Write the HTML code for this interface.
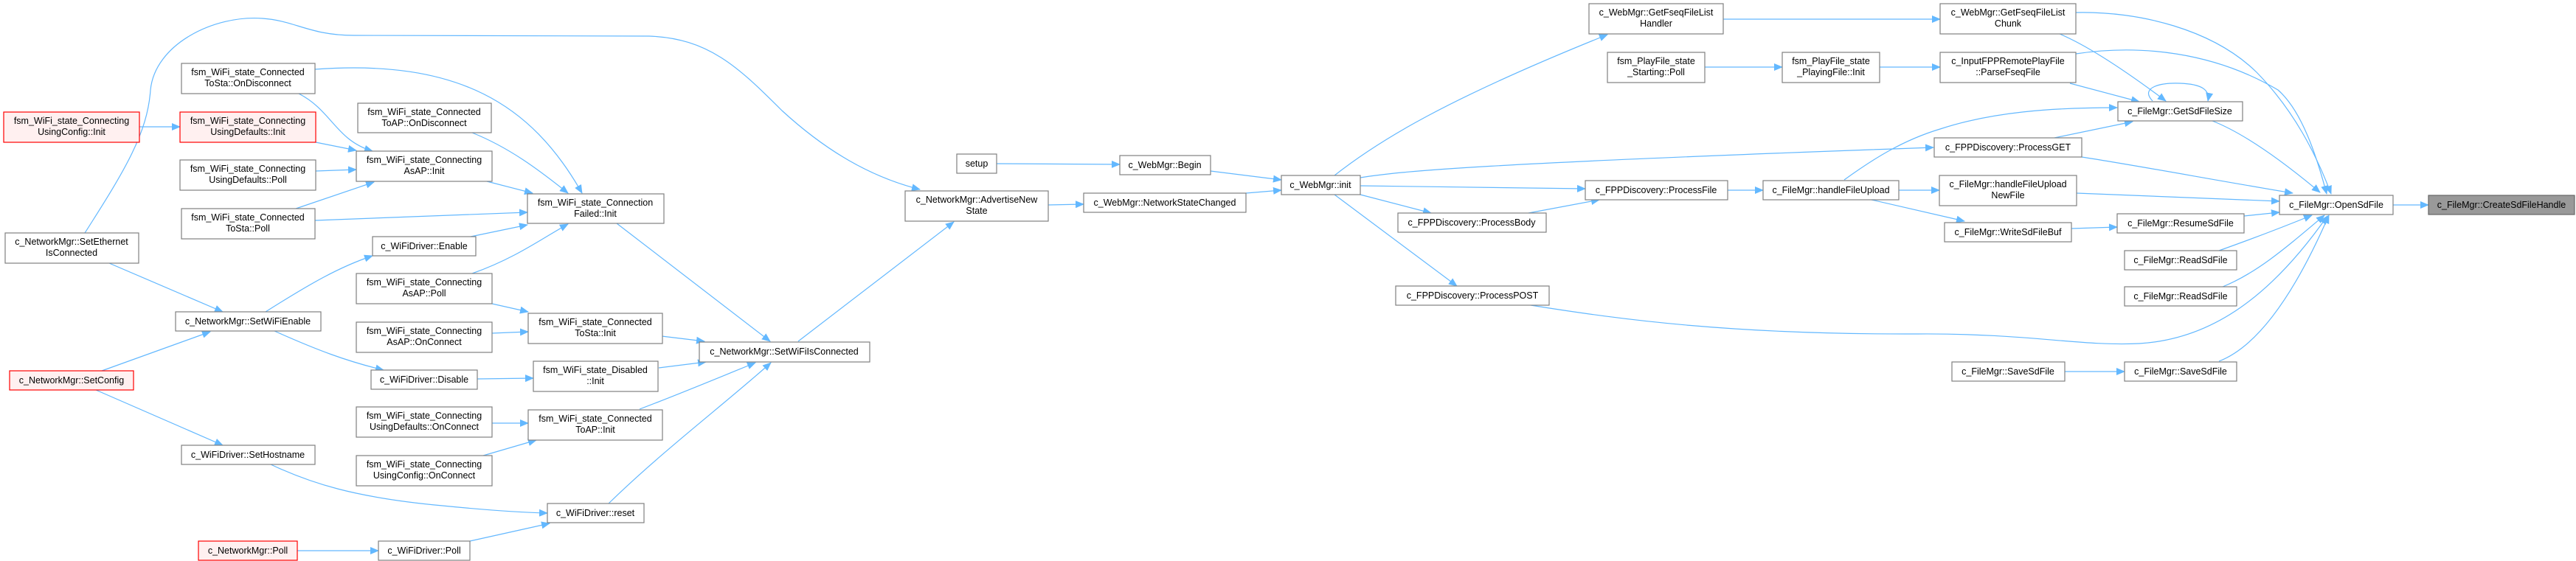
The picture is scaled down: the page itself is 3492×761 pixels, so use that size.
<!DOCTYPE html>
<html><head><meta charset="utf-8"><style>
html,body{margin:0;padding:0;background:#fff;}
svg{display:block;}
text{font-family:"Liberation Sans",Arial,sans-serif;font-size:12.5px;fill:#000;text-anchor:middle;}
rect{fill:#fff;stroke:#808080;stroke-width:1.2;}
rect.r{fill:#fff0f0;stroke:#ff0000;}
rect.g{fill:#999;stroke:#666;}
path{fill:none;stroke:#63b8ff;stroke-width:1.2;marker-end:url(#a);}
</style></head><body>
<svg width="3492" height="761" viewBox="0 0 3492 761" xmlns="http://www.w3.org/2000/svg">
<defs><marker id="a" markerUnits="userSpaceOnUse" markerWidth="12" markerHeight="10" refX="11" refY="5" orient="auto"><polygon points="0,0 12,5 0,10" fill="#63b8ff"/></marker></defs>

<!-- edges -->
<path d="M189,172 L244,172"/>
<path d="M405,127 C450,150 455,190 505,205"/>
<path d="M427,94 C620,80 720,140 789,262"/>
<path d="M428,193 L483,204"/>
<path d="M640,180 C690,200 730,230 770,262"/>
<path d="M428,232 L483,230"/>
<path d="M401,283 L507,247"/>
<path d="M427,299 L715,288"/>
<path d="M660,246 L722,262"/>
<path d="M638,321 L715,305"/>
<path d="M640,371 C700,350 740,320 770,304"/>
<path d="M836,303 L1044,463"/>
<path d="M148,357 L302,423"/>
<path d="M115,316 C170,230 200,180 204,122 C210,60 290,20 356,25 C400,28 420,48 480,48 L880,49 C960,52 1000,90 1060,150 C1120,205 1180,240 1247,257"/>
<path d="M360,423 C420,385 460,362 505,347"/>
<path d="M372,449 C430,475 470,490 520,502"/>
<path d="M138,503 L285,450"/>
<path d="M130,529 L302,604"/>
<path d="M647,514 L723,513"/>
<path d="M667,412 L716,423"/>
<path d="M667,452 L716,450"/>
<path d="M897,456 L955,463"/>
<path d="M893,499 L957,491"/>
<path d="M867,555 C920,535 980,510 1024,492"/>
<path d="M667,574 L716,574"/>
<path d="M655,618 L727,597"/>
<path d="M367,630 C420,655 480,675 600,686 C660,692 700,695 742,696"/>
<path d="M825,683 C900,610 980,550 1045,492"/>
<path d="M403,747 L513,747"/>
<path d="M637,734 L745,710"/>
<path d="M1082,463 L1293,301"/>
<path d="M1421,278 L1469,277"/>
<path d="M1351,222 L1518,223"/>
<path d="M1641,232 L1737,244"/>
<path d="M1689,262 L1737,258"/>
<path d="M1809,238 C1870,190 1960,135 2179,47"/>
<path d="M1844,241 C1900,232 2000,222 2621,200"/>
<path d="M1844,252 L2149,256"/>
<path d="M1844,264 L1940,289"/>
<path d="M1809,264 L1975,388"/>
<path d="M2072,289 L2168,271"/>
<path d="M2342,258 L2390,258"/>
<path d="M2500,244 C2540,215 2580,190 2630,175 C2700,152 2780,146 2870,146"/>
<path d="M2574,258 L2629,258"/>
<path d="M2537,271 L2663,300"/>
<path d="M2336,26 L2630,26"/>
<path d="M2311,91 L2416,91"/>
<path d="M2548,91 L2630,91"/>
<path d="M2792,46 C2830,62 2880,95 2936,137"/>
<path d="M2814,17 C2900,15 3000,40 3059,98 C3110,150 3140,210 3160,263"/>
<path d="M2806,113 L2900,138"/>
<path d="M2814,73 C2900,60 3000,70 3088,122 C3120,150 3140,210 3154,263"/>
<path d="M2918,137 C2900,118 2930,112 2955,113 C2985,114 2996,122 2993,137"/>
<path d="M2999,164 C3040,180 3090,215 3145,261"/>
<path d="M2785,187 L2891,165"/>
<path d="M2822,213 C2900,225 3000,244 3108,262"/>
<path d="M2815,262 L3090,273"/>
<path d="M2808,310 L2870,308"/>
<path d="M3042,293 L3090,288"/>
<path d="M3008,340 C3050,325 3090,310 3134,292"/>
<path d="M3013,389 C3060,370 3100,335 3151,292"/>
<path d="M2075,414 C2200,434 2350,454 2600,453 C2750,452 2820,470 2900,466 C3000,460 3080,400 3155,293"/>
<path d="M3008,490 C3060,470 3110,400 3157,292"/>
<path d="M2799,504 L2880,504"/>
<path d="M3244,278 L3292,278"/>

<!-- nodes -->
<rect x="246" y="86" width="181" height="41"/><text x="336" y="102">fsm_WiFi_state_Connected</text><text x="336" y="117">ToSta::OnDisconnect</text>
<rect class="r" x="5" y="152" width="184" height="41"/><text x="97" y="168">fsm_WiFi_state_Connecting</text><text x="97" y="183">UsingConfig::Init</text>
<rect class="r" x="244" y="152" width="184" height="41"/><text x="336" y="168">fsm_WiFi_state_Connecting</text><text x="336" y="183">UsingDefaults::Init</text>
<rect x="485" y="140" width="181" height="40"/><text x="575" y="156">fsm_WiFi_state_Connected</text><text x="575" y="171">ToAP::OnDisconnect</text>
<rect x="483" y="205" width="184" height="41"/><text x="575" y="221">fsm_WiFi_state_Connecting</text><text x="575" y="236">AsAP::Init</text>
<rect x="244" y="217" width="184" height="41"/><text x="336" y="233">fsm_WiFi_state_Connecting</text><text x="336" y="248">UsingDefaults::Poll</text>
<rect x="246" y="283" width="181" height="41"/><text x="336" y="299">fsm_WiFi_state_Connected</text><text x="336" y="314">ToSta::Poll</text>
<rect x="715" y="263" width="185" height="40"/><text x="807" y="279">fsm_WiFi_state_Connection</text><text x="807" y="294">Failed::Init</text>
<rect x="7" y="316" width="181" height="41"/><text x="97" y="332">c_NetworkMgr::SetEthernet</text><text x="97" y="347">IsConnected</text>
<rect x="505" y="321" width="140" height="26"/><text x="575" y="338">c_WiFiDriver::Enable</text>
<rect x="483" y="371" width="184" height="41"/><text x="575" y="387">fsm_WiFi_state_Connecting</text><text x="575" y="402">AsAP::Poll</text>
<rect x="238" y="423" width="197" height="26"/><text x="336" y="440">c_NetworkMgr::SetWiFiEnable</text>
<rect x="716" y="425" width="182" height="41"/><text x="807" y="441">fsm_WiFi_state_Connected</text><text x="807" y="456">ToSta::Init</text>
<rect x="483" y="437" width="184" height="41"/><text x="575" y="453">fsm_WiFi_state_Connecting</text><text x="575" y="468">AsAP::OnConnect</text>
<rect class="r" x="13" y="503" width="168" height="26"/><text x="97" y="520">c_NetworkMgr::SetConfig</text>
<rect x="503" y="502" width="144" height="26"/><text x="575" y="519">c_WiFiDriver::Disable</text>
<rect x="723" y="490" width="169" height="41"/><text x="807" y="506">fsm_WiFi_state_Disabled</text><text x="807" y="521">::Init</text>
<rect x="483" y="552" width="184" height="41"/><text x="575" y="568">fsm_WiFi_state_Connecting</text><text x="575" y="583">UsingDefaults::OnConnect</text>
<rect x="716" y="556" width="182" height="41"/><text x="807" y="572">fsm_WiFi_state_Connected</text><text x="807" y="587">ToAP::Init</text>
<rect x="246" y="604" width="181" height="26"/><text x="336" y="621">c_WiFiDriver::SetHostname</text>
<rect x="483" y="618" width="184" height="41"/><text x="575" y="634">fsm_WiFi_state_Connecting</text><text x="575" y="649">UsingConfig::OnConnect</text>
<rect x="742" y="683" width="131" height="26"/><text x="807" y="700">c_WiFiDriver::reset</text>
<rect class="r" x="269" y="734" width="134" height="26"/><text x="336" y="751">c_NetworkMgr::Poll</text>
<rect x="513" y="734" width="124" height="26"/><text x="575" y="751">c_WiFiDriver::Poll</text>
<rect x="948" y="464" width="231" height="27"/><text x="1063" y="481">c_NetworkMgr::SetWiFiIsConnected</text>
<rect x="1227" y="259" width="194" height="41"/><text x="1324" y="275">c_NetworkMgr::AdvertiseNew</text><text x="1324" y="290">State</text>
<rect x="1297" y="209" width="54" height="26"/><text x="1324" y="226">setup</text>
<rect x="1518" y="211" width="123" height="26"/><text x="1579" y="228">c_WebMgr::Begin</text>
<rect x="1469" y="262" width="220" height="26"/><text x="1579" y="279">c_WebMgr::NetworkStateChanged</text>
<rect x="1737" y="238" width="107" height="26"/><text x="1790" y="255">c_WebMgr::init</text>
<rect x="2154" y="5" width="182" height="41"/><text x="2245" y="21">c_WebMgr::GetFseqFileList</text><text x="2245" y="36">Handler</text>
<rect x="2179" y="71" width="132" height="41"/><text x="2245" y="87">fsm_PlayFile_state</text><text x="2245" y="102">_Starting::Poll</text>
<rect x="2416" y="71" width="132" height="41"/><text x="2482" y="87">fsm_PlayFile_state</text><text x="2482" y="102">_PlayingFile::Init</text>
<rect x="2149" y="245" width="193" height="26"/><text x="2245" y="262">c_FPPDiscovery::ProcessFile</text>
<rect x="2390" y="245" width="184" height="26"/><text x="2482" y="262">c_FileMgr::handleFileUpload</text>
<rect x="1895" y="289" width="201" height="26"/><text x="1995" y="306">c_FPPDiscovery::ProcessBody</text>
<rect x="1892" y="388" width="208" height="26"/><text x="1996" y="405">c_FPPDiscovery::ProcessPOST</text>
<rect x="2630" y="5" width="184" height="41"/><text x="2722" y="21">c_WebMgr::GetFseqFileList</text><text x="2722" y="36">Chunk</text>
<rect x="2630" y="71" width="184" height="41"/><text x="2722" y="87">c_InputFPPRemotePlayFile</text><text x="2722" y="102">::ParseFseqFile</text>
<rect x="2871" y="138" width="169" height="26"/><text x="2955" y="155">c_FileMgr::GetSdFileSize</text>
<rect x="2622" y="187" width="200" height="26"/><text x="2722" y="204">c_FPPDiscovery::ProcessGET</text>
<rect x="2629" y="238" width="186" height="41"/><text x="2722" y="254">c_FileMgr::handleFileUpload</text><text x="2722" y="269">NewFile</text>
<rect x="2636" y="302" width="172" height="26"/><text x="2722" y="319">c_FileMgr::WriteSdFileBuf</text>
<rect x="2870" y="290" width="172" height="26"/><text x="2956" y="307">c_FileMgr::ResumeSdFile</text>
<rect x="3090" y="265" width="154" height="26"/><text x="3167" y="282">c_FileMgr::OpenSdFile</text>
<rect class="g" x="3292" y="265" width="198" height="26"/><text x="3391" y="282">c_FileMgr::CreateSdFileHandle</text>
<rect x="2880" y="340" width="152" height="26"/><text x="2956" y="357">c_FileMgr::ReadSdFile</text>
<rect x="2880" y="389" width="152" height="26"/><text x="2956" y="406">c_FileMgr::ReadSdFile</text>
<rect x="2646" y="491" width="153" height="26"/><text x="2722" y="508">c_FileMgr::SaveSdFile</text>
<rect x="2880" y="491" width="152" height="26"/><text x="2956" y="508">c_FileMgr::SaveSdFile</text>
</svg>
</body></html>
